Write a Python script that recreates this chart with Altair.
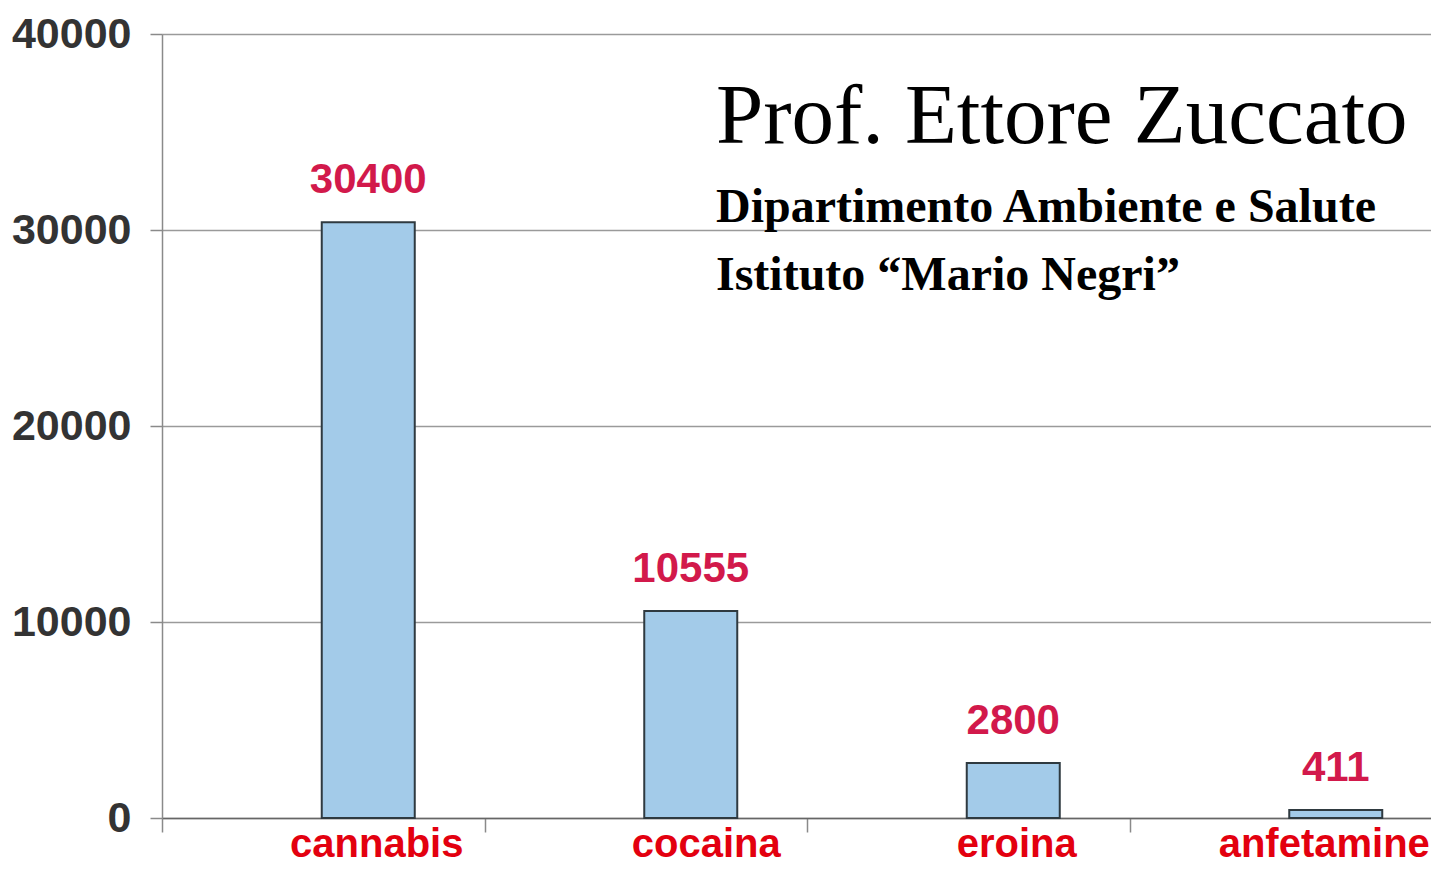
import altair as alt
import pandas as pd

categories = ["cannabis", "cocaina", "eroina", "anfetamine"]
values = [30400, 10555, 2800, 411]
y_ticks = [0, 10000, 20000, 30000, 40000]
title_main = "Prof. Ettore Zuccato"
title_sub1 = "Dipartimento Ambiente e Salute"
title_sub2 = "Istituto “Mario Negri”"

df = pd.DataFrame({"sostanza": categories, "valore": values})

label_offset = {
    "condition": [
        {"test": "datum.value === 'cocaina'", "value": 60},
        {"test": "datum.value === 'eroina'", "value": 48},
        {"test": "datum.value === 'anfetamine'", "value": 33},
    ],
    "value": 53,
}

x_enc = alt.X(
    "sostanza:N",
    sort=categories,
    scale=alt.Scale(range=[0, 1290], paddingInner=0, paddingOuter=0),
    axis=alt.Axis(
        title=None,
        labelAngle=0,
        labelFont="Liberation Sans",
        labelFontWeight="bold",
        labelFontSize=40,
        labelColor="#e3000f",
        labelOffset=label_offset,
        labelBaseline="alphabetic",
        labelPadding=24,
        labelLimit=0,
        tickSize=14,
        tickColor="#8a8a8a",
        tickWidth=1.5,
        tickBand="extent",
        domainColor="#666666",
        domainWidth=1.5,
        grid=False,
    ),
)

y_enc = alt.Y(
    "valore:Q",
    scale=alt.Scale(domain=[0, 40000], nice=False),
    axis=alt.Axis(
        values=y_ticks,
        title=None,
        format="d",
        grid=True,
        gridColor="#9a9a9a",
        gridWidth=1.5,
        domain=True,
        domainColor="#8a8a8a",
        domainWidth=1.5,
        tickColor="#8a8a8a",
        tickWidth=1.5,
        tickSize=12,
        labelFont="Liberation Sans",
        labelFontWeight="bold",
        labelFontSize=43,
        labelColor="#333333",
        labelPadding=19,
    ),
)

bars = alt.Chart(df).mark_bar(
    size=93, xOffset=45, fill="#a3cbe9", stroke="#2f3a40", strokeWidth=2
).encode(x=x_enc, y=y_enc)

labels = alt.Chart(df).mark_text(
    xOffset=45,
    dy=-29,
    baseline="alphabetic",
    font="Liberation Sans",
    fontWeight="bold",
    fontSize=42,
    color="#d2194b",
).encode(x=alt.X("sostanza:N", sort=categories), y="valore:Q", text="valore:Q")

def title_layer(txt, y, size, weight):
    return alt.Chart(pd.DataFrame({"t": [txt]})).mark_text(
        align="left",
        baseline="alphabetic",
        font="Liberation Serif",
        fontSize=size,
        fontWeight=weight,
        color="#000000",
    ).encode(x=alt.value(554), y=alt.value(y), text="t:N")

t1 = title_layer(title_main, 109, 85, "normal")
t2 = title_layer(title_sub1, 188, 48, "bold")
t3 = title_layer(title_sub2, 256, 48, "bold")

chart = alt.layer(bars, labels, t1, t2, t3).properties(
    width=1269,
    height=784,
    autosize=alt.AutoSizeParams(type="none"),
    padding={"left": 154, "top": 26, "right": 0, "bottom": 45},
).configure_view(stroke=None).configure(background="white")

chart.save("out.html", embed_options={"renderer": "svg", "actions": False})
